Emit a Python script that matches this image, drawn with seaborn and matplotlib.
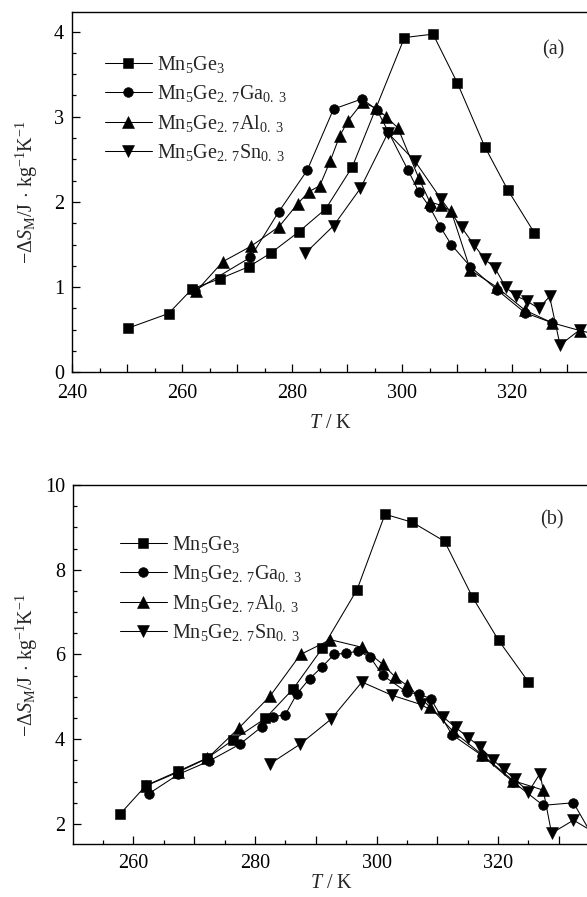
import matplotlib
matplotlib.use('Agg')
import numpy as np
import pandas as pd
import seaborn as sns
import matplotlib.pyplot as plt
from matplotlib.ticker import MultipleLocator, FuncFormatter

# ---------------- data ----------------
labels = [r"Mn$_5$Ge$_3$",
          r"Mn$_5$Ge$_{2.\;7}$Ga$_{0.\;3}$",
          r"Mn$_5$Ge$_{2.\;7}$Al$_{0.\;3}$",
          r"Mn$_5$Ge$_{2.\;7}$Sn$_{0.\;3}$"]

# panel (a)
a_sq_T = [250.2, 257.5, 261.8, 266.9, 272.1, 276.1, 281.2, 286.1, 290.9, 300.4, 305.6, 310.0, 315.0, 319.2, 324.0]
a_sq_S = [0.52, 0.69, 0.98, 1.10, 1.24, 1.40, 1.65, 1.92, 2.41, 3.93, 3.97, 3.40, 2.65, 2.14, 1.64]

a_ga_T = [262.3, 272.4, 277.5, 282.7, 287.5, 292.7, 295.4, 297.5, 301.0, 303.0, 305.0, 306.9, 308.9, 312.4, 317.2, 322.3, 327.3]
a_ga_S = [0.96, 1.35, 1.88, 2.37, 3.09, 3.21, 3.08, 2.82, 2.38, 2.12, 1.94, 1.71, 1.50, 1.24, 0.97, 0.70, 0.58]

a_al_T = [262.5, 267.4, 272.5, 277.6, 281.0, 283.0, 285.0, 286.9, 288.6, 290.1, 292.8, 295.3, 297.1, 299.2,
          303.0, 305.0, 307.1, 308.9, 312.4, 317.2, 322.3, 327.3, 332.3, 337.0]
a_al_S = [0.95, 1.30, 1.48, 1.71, 1.98, 2.12, 2.19, 2.48, 2.77, 2.95, 3.17, 3.10, 3.00, 2.87,
          2.28, 2.00, 1.96, 1.89, 1.20, 1.00, 0.73, 0.58, 0.49, 0.42]

a_sn_T = [282.4, 287.5, 292.4, 297.4, 302.3, 307.1, 310.8, 313.0, 315.0, 316.9, 318.8, 320.6, 322.6, 324.8,
          326.8, 328.7, 332.3]
a_sn_S = [1.40, 1.72, 2.16, 2.81, 2.48, 2.03, 1.70, 1.50, 1.33, 1.22, 1.00, 0.90, 0.84, 0.75,
          0.89, 0.32, 0.50]

# panel (b)
b_sq_T = [257.8, 262.1, 267.3, 272.2, 276.4, 281.7, 286.3, 291.1, 296.8, 301.4, 305.9, 311.2, 315.8, 320.1, 325.0]
b_sq_S = [2.23, 2.91, 3.24, 3.56, 3.98, 4.49, 5.19, 6.15, 7.53, 9.31, 9.12, 8.67, 7.35, 6.33, 5.35]

b_ga_T = [262.5, 267.4, 272.4, 277.5, 281.1, 283.0, 285.0, 286.9, 289.0, 291.0, 293.0, 295.0, 297.0, 299.0,
          301.0, 305.0, 307.0, 308.9, 312.4, 317.4, 322.5, 327.4, 332.4, 337.0]
b_ga_S = [2.71, 3.17, 3.48, 3.88, 4.29, 4.53, 4.58, 5.07, 5.43, 5.70, 6.00, 6.03, 6.08, 5.93,
          5.51, 5.11, 5.06, 4.96, 4.11, 3.61, 2.99, 2.44, 2.50, 1.35]

b_al_T = [262.1, 267.3, 272.2, 277.4, 282.5, 287.5, 292.4, 297.6, 301.0, 303.0, 305.0, 308.8, 312.5, 317.4, 322.5, 327.4]
b_al_S = [2.90, 3.22, 3.55, 4.27, 5.02, 6.00, 6.35, 6.17, 5.77, 5.48, 5.27, 4.76, 4.20, 3.63, 3.02, 2.80]

b_sn_T = [282.5, 287.4, 292.5, 297.6, 302.5, 307.3, 311.0, 313.0, 315.1, 317.0, 319.1, 320.9, 322.8, 325.0,
          326.9, 328.8, 332.4, 337.0]
b_sn_S = [3.42, 3.88, 4.47, 5.35, 5.04, 4.82, 4.52, 4.28, 4.04, 3.82, 3.52, 3.29, 3.05, 2.76,
          3.19, 1.78, 2.09, 1.70]

x_tick_labels = [240, 260, 280, 300, 320]

# ---------------- style ----------------
sns.set_theme(style='ticks')
plt.rcParams['font.family'] = ['Liberation Serif', 'DejaVu Serif']
plt.rcParams['mathtext.fontset'] = 'custom'
plt.rcParams['mathtext.rm'] = 'Liberation Serif'
plt.rcParams['mathtext.it'] = 'Liberation Serif:italic'
plt.rcParams['mathtext.bf'] = 'Liberation Serif:bold'
plt.rcParams['axes.edgecolor'] = 'black'
plt.rcParams['axes.linewidth'] = 1.0

FS = 14.5
W, H = 587, 897
fig = plt.figure(figsize=(W / 100, H / 100), dpi=100)


def px_axes(l, t, r, b):
    return fig.add_axes([l / W, 1 - b / H, (r - l) / W, (b - t) / H])


A = (72.3, 12, 620, 372.3)
B = (73.3, 485, 620, 844.3)
axa = px_axes(*A)
axb = px_axes(*B)

markers = ['s', 'o', '^', 'v']
msizes = [6.5, 7.0, 8.0, 8.0]

series_a = [(a_sq_T, a_sq_S), (a_ga_T, a_ga_S), (a_al_T, a_al_S), (a_sn_T, a_sn_S)]
series_b = [(b_sq_T, b_sq_S), (b_ga_T, b_ga_S), (b_al_T, b_al_S), (b_sn_T, b_sn_S)]


def fmt_lab(v, pos):
    for t in x_tick_labels:
        if abs(v - t) < 1e-6:
            return f"{t}"
    return ""


def draw(ax, series, xlim, ylim, ymaj, ymin, leg_xy, tag_xy, tag, xlab_xy, ylab_x, xpad):
    for (T, S), m, ms, lab in zip(series, markers, msizes, labels):
        sns.lineplot(x=T, y=S, ax=ax, color='black', marker=m, markersize=ms,
                     markeredgecolor='black', markeredgewidth=0.4, linewidth=0.75,
                     label=lab, sort=False, estimator=None)
    ax.set_xlim(*xlim)
    ax.set_ylim(*ylim)
    ax.xaxis.set_major_locator(MultipleLocator(10))
    ax.xaxis.set_minor_locator(MultipleLocator(5))
    ax.xaxis.set_major_formatter(FuncFormatter(fmt_lab))
    ax.yaxis.set_major_locator(MultipleLocator(ymaj))
    ax.yaxis.set_minor_locator(MultipleLocator(ymin))
    ax.tick_params(which='both', direction='in', colors='black', labelsize=FS)
    ax.tick_params(which='major', length=5.5, width=0.9)
    ax.tick_params(which='minor', length=3, width=0.9)
    ax.tick_params(axis='x', pad=xpad)
    ax.tick_params(axis='y', pad=6)
    for s in ['top', 'left', 'bottom', 'right']:
        ax.spines[s].set_visible(True)
        ax.spines[s].set_color('black')
    ax.set_xlabel(r"$T$ / K", fontsize=FS)
    ax.set_ylabel(r"$-\Delta S_\mathrm{M}$/J$\,\cdot\,$kg$^{-1}$K$^{-1}$", fontsize=FS)
    ax.xaxis.label.set_va('center')
    ax.yaxis.label.set_va('center')
    ax.xaxis.set_label_coords(*xlab_xy)
    ax.yaxis.set_label_coords(ylab_x, 0.5)
    ax.legend(loc='upper left', bbox_to_anchor=leg_xy, frameon=False, fontsize=FS,
              handlelength=2.35, handletextpad=0.25, labelspacing=0.42,
              borderpad=0, borderaxespad=0)
    ax.text(tag_xy[0], tag_xy[1], tag, transform=ax.transAxes, fontsize=FS,
            ha='center', va='center')


def ax_coords(ax_px, x, y):
    l, t, r, b = ax_px
    return ((x - l) / (r - l), (b - y) / (b - t))


draw(axa, series_a, (240.0, 339.6), (0, 4.23), 1, 0.25,
     ax_coords(A, 104.5, 54), ax_coords(A, 553, 50), "(a)",
     ax_coords(A, 331, 423), ax_coords(A, 27, 0)[0], 8.5)
draw(axb, series_b, (250.13, 340.05), (1.52, 10), 2, 0.5,
     ax_coords(B, 119.5, 534), ax_coords(B, 552, 520), "(b)",
     ax_coords(B, 331.7, 883), ax_coords(B, 27, 0)[0], 7)

fig.savefig('out.png', dpi=100)
